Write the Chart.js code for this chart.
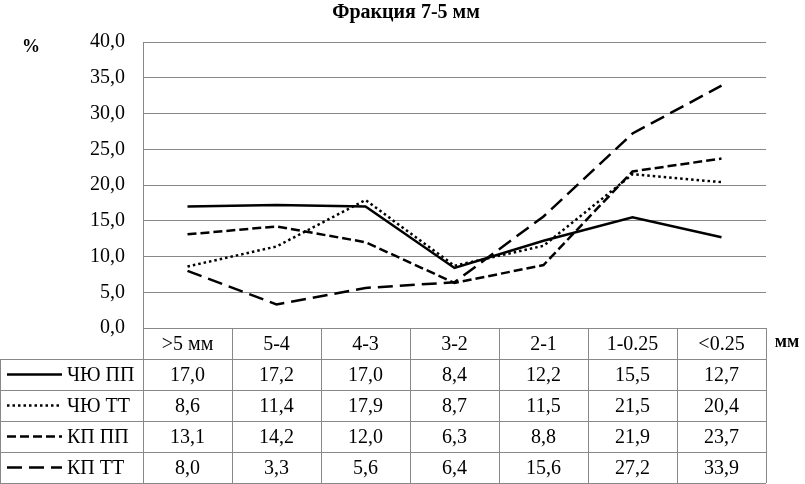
<!DOCTYPE html>
<html>
<head>
<meta charset="utf-8">
<script src="https://cdn.jsdelivr.net/npm/chart.js@4.4.1/dist/chart.umd.min.js"></script>
<style>
  body { margin: 0; background: #fff; }
  #wrap { width: 805px; height: 484px; position: relative; }
</style>
</head>
<body>
<div id="wrap"><canvas id="chart"></canvas></div>
<script>
var categories = ['>5 мм', '5-4', '4-3', '3-2', '2-1', '1-0.25', '<0.25'];
var seriesNames = ['ЧЮ ПП', 'ЧЮ ТТ', 'КП ПП', 'КП ТТ'];
var chuPP = [17.0, 17.2, 17.0, 8.4, 12.2, 15.5, 12.7];
var chuTT = [8.6, 11.4, 17.9, 8.7, 11.5, 21.5, 20.4];
var kpPP = [13.1, 14.2, 12.0, 6.3, 8.8, 21.9, 23.7];
var kpTT = [8.0, 3.3, 5.6, 6.4, 15.6, 27.2, 33.9];
var dashes = [[], [2.5, 3], [9, 4], [15, 7]];

var serif = '"Liberation Serif", "Times New Roman", serif';
var gridColor = '#888888';
var fmt = function (v) { return v.toFixed(1).replace('.', ','); };

var allSeries = [chuPP, chuTT, kpPP, kpTT];

// title, unit labels and the data table under the plot
var tablePlugin = {
    id: 'dataTable',
    afterDraw: function (chart) {
        var ctx = chart.ctx;
        var area = chart.chartArea;
        var xs = chart.scales.x;
        var n = categories.length;
        var cw = (area.right - area.left) / n;
        var rowH = 31;
        var top = area.bottom;
        var bottom = top + rowH * 5;

        ctx.save();
        ctx.fillStyle = '#000';
        ctx.textAlign = 'center';
        ctx.textBaseline = 'middle';
        ctx.font = 'bold 20px ' + serif;
        ctx.fillText('Фракция 7-5 мм', 406, 13);
        ctx.font = 'bold 18px ' + serif;
        ctx.fillText('%', 31, 47);
        ctx.fillText('мм', 787, 342);

        // grid of the table
        ctx.strokeStyle = gridColor;
        ctx.lineWidth = 1;
        ctx.beginPath();
        for (var r = 1; r <= 5; r++) {
            var y = Math.round(top + r * rowH) + 0.5;
            ctx.moveTo(0, y);
            ctx.lineTo(area.right, y);
        }
        ctx.moveTo(0.5, top + rowH);
        ctx.lineTo(0.5, bottom);
        ctx.moveTo(Math.round(area.left) + 0.5, top);
        ctx.lineTo(Math.round(area.left) + 0.5, bottom);
        for (var i = 0; i < n; i++) {
            var bx = Math.round(xs.getPixelForValue(i) + cw / 2) + 0.5;
            ctx.moveTo(bx, top);
            ctx.lineTo(bx, bottom);
        }
        ctx.stroke();

        // header
        ctx.fillStyle = '#000';
        ctx.font = '20px ' + serif;
        categories.forEach(function (c, i) {
            ctx.fillText(c, xs.getPixelForValue(i), top + rowH / 2 + 1);
        });

        // rows
        allSeries.forEach(function (vals, s) {
            var cy = top + rowH * (s + 1) + rowH / 2 + 1;
            vals.forEach(function (v, i) {
                ctx.fillText(fmt(v), xs.getPixelForValue(i), cy);
            });
            ctx.strokeStyle = '#000';
            ctx.lineWidth = 2.5;
            ctx.setLineDash(dashes[s]);
            ctx.beginPath();
            ctx.moveTo(7, cy - 1);
            ctx.lineTo(62, cy - 1);
            ctx.stroke();
            ctx.setLineDash([]);
            ctx.textAlign = 'left';
            ctx.fillText(seriesNames[s], 67, cy);
            ctx.textAlign = 'center';
        });
        ctx.restore();
    }
};

new Chart(document.getElementById('chart'), {
    type: 'line',
    data: {
        labels: categories,
        datasets: allSeries.map(function (vals, s) {
            return {
                label: seriesNames[s],
                data: vals,
                borderColor: '#000',
                borderWidth: 2.5,
                borderDash: dashes[s],
                pointRadius: 0,
                tension: 0,
                fill: false
            };
        })
    },
    options: {
        responsive: true,
        maintainAspectRatio: false,
        animation: false,
        layout: { padding: { top: 42, right: 39, bottom: 156, left: 0 } },
        plugins: {
            legend: { display: false },
            title: { display: false },
            tooltip: { enabled: false }
        },
        scales: {
            x: {
                display: false,
                offset: true
            },
            y: {
                min: 0,
                max: 40,
                afterFit: function (scale) { scale.width = 143; },
                ticks: {
                    stepSize: 5,
                    padding: 18,
                    color: '#000',
                    font: { family: serif, size: 20 },
                    callback: function (v) { return fmt(v); }
                },
                grid: { color: gridColor, drawTicks: false },
                border: { color: gridColor }
            }
        }
    },
    plugins: [tablePlugin]
});
</script>
</body>
</html>
